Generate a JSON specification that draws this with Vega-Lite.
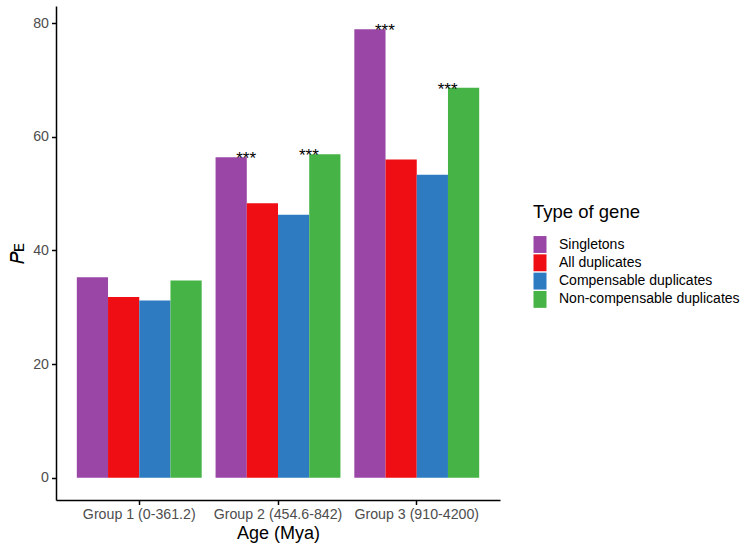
{
  "$schema": "https://vega.github.io/schema/vega-lite/v6.json",
  "width": 444,
  "height": 494,
  "autosize": {"type": "none"},
  "padding": {"left": 56, "top": 6, "right": 250, "bottom": 52},
  "background": "white",
  "config": {
    "font": "Liberation Sans",
    "view": {"stroke": null}
  },
  "data": {
    "values": [
      {"group": "Group 1 (0-361.2)", "type": "Singletons", "pe": 35.3, "sig": ""},
      {"group": "Group 1 (0-361.2)", "type": "All duplicates", "pe": 31.8, "sig": ""},
      {"group": "Group 1 (0-361.2)", "type": "Compensable duplicates", "pe": 31.2, "sig": ""},
      {"group": "Group 1 (0-361.2)", "type": "Non-compensable duplicates", "pe": 34.7, "sig": ""},
      {"group": "Group 2 (454.6-842)", "type": "Singletons", "pe": 56.4, "sig": "***"},
      {"group": "Group 2 (454.6-842)", "type": "All duplicates", "pe": 48.3, "sig": ""},
      {"group": "Group 2 (454.6-842)", "type": "Compensable duplicates", "pe": 46.3, "sig": ""},
      {"group": "Group 2 (454.6-842)", "type": "Non-compensable duplicates", "pe": 56.9, "sig": "***"},
      {"group": "Group 3 (910-4200)", "type": "Singletons", "pe": 78.9, "sig": "***"},
      {"group": "Group 3 (910-4200)", "type": "All duplicates", "pe": 56.0, "sig": ""},
      {"group": "Group 3 (910-4200)", "type": "Compensable duplicates", "pe": 53.3, "sig": ""},
      {"group": "Group 3 (910-4200)", "type": "Non-compensable duplicates", "pe": 68.6, "sig": "***"}
    ]
  },
  "encoding": {
    "x": {
      "field": "group", "type": "nominal",
      "scale": {"paddingInner": 0.1, "paddingOuter": 0.15},
      "axis": {
        "title": "Age (Mya)", "titleFontSize": 18, "titleFontWeight": "normal", "titleColor": "black", "titlePadding": 3,
        "labelAngle": 0, "labelFontSize": 14.2, "labelColor": "#4D4D4D", "labelPadding": 3,
        "domainColor": "black", "domainWidth": 1.5, "tickColor": "black", "tickWidth": 1.5, "tickSize": 4.5
      }
    },
    "xOffset": {
      "field": "type", "type": "nominal",
      "sort": ["Singletons", "All duplicates", "Compensable duplicates", "Non-compensable duplicates"],
      "scale": {"paddingInner": 0, "paddingOuter": 0}
    },
    "y": {
      "field": "pe", "type": "quantitative",
      "scale": {"domain": [-3.9, 83], "nice": false, "zero": false},
      "axis": {
        "title": "𝑃ᴇ", "titleFontSize": 19, "titleFontWeight": "normal", "titleColor": "black", "titlePadding": 5,
        "values": [0, 20, 40, 60, 80], "grid": false,
        "labelFontSize": 14.2, "labelColor": "#4D4D4D", "labelPadding": 3,
        "domainColor": "black", "domainWidth": 1.5, "tickColor": "black", "tickWidth": 1.5, "tickSize": 4.5
      }
    }
  },
  "layer": [
    {
      "mark": {"type": "bar"},
      "encoding": {
        "color": {
          "field": "type", "type": "nominal",
          "sort": ["Singletons", "All duplicates", "Compensable duplicates", "Non-compensable duplicates"],
          "scale": {
            "domain": ["Singletons", "All duplicates", "Compensable duplicates", "Non-compensable duplicates"],
            "range": ["#9946A6", "#EF0E14", "#2E7BC1", "#45B346"]
          },
          "legend": {
            "title": "Type of gene",
            "orient": "none", "legendX": 477, "legendY": 197,
            "titleFontSize": 18.5, "titleFontWeight": "normal", "titleColor": "black", "titlePadding": 16,
            "labelFontSize": 14, "labelColor": "black", "labelOffset": 12, "labelLimit": 300,
            "symbolType": "M-1,-1.3H1V1.3H-1Z", "symbolSize": 169, "symbolStrokeWidth": 0,
            "symbolOpacity": 1, "rowPadding": 0.3
          }
        }
      }
    },
    {
      "transform": [{"filter": "datum.type === 'Singletons'"}],
      "mark": {"type": "text", "dx": 15, "dy": 7, "baseline": "alphabetic", "align": "center", "fontSize": 17, "color": "black"},
      "encoding": {"text": {"field": "sig"}}
    },
    {
      "transform": [{"filter": "datum.type === 'Non-compensable duplicates'"}],
      "mark": {"type": "text", "dx": -16, "dy": 7, "baseline": "alphabetic", "align": "center", "fontSize": 17, "color": "black"},
      "encoding": {"text": {"field": "sig"}}
    }
  ]
}
